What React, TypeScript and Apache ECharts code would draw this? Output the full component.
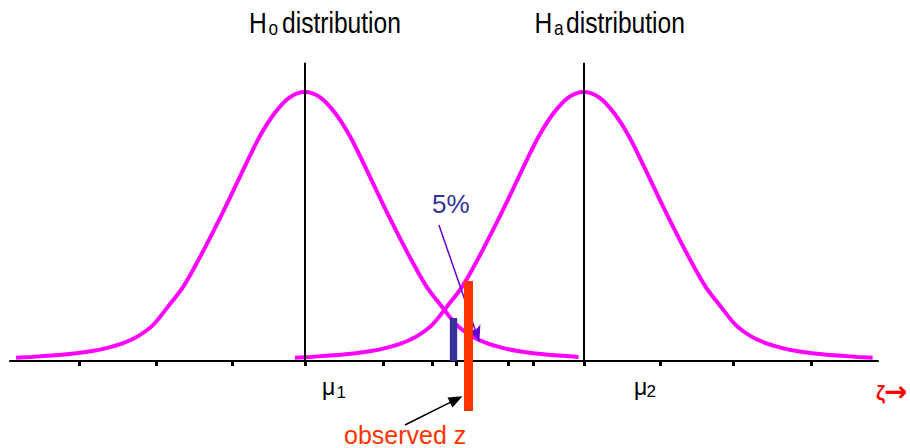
import React, { useEffect, useRef } from "react";
import * as echarts from "echarts";

// Horizontal positions, in units of one standard deviation (sigma)
const OFFSETS = [
  -3.8, -3.6, -3.4, -3.2, -3.0, -2.8, -2.6, -2.4, -2.2, -2.0, -1.8, -1.6, -1.4,
  -1.2, -1.0, -0.8, -0.6, -0.4, -0.2, 0, 0.2, 0.4, 0.6, 0.8, 1.0, 1.2, 1.4, 1.6,
  1.8, 2.0, 2.2, 2.4, 2.6, 2.8, 3.0, 3.2, 3.4, 3.6, 3.8,
];
// Curve heights (peak = 1)
const H0_DENSITY = [
  0.003, 0.006, 0.01, 0.014, 0.02, 0.028, 0.04, 0.057, 0.083, 0.125, 0.195, 0.27,
  0.37, 0.48, 0.595, 0.715, 0.83, 0.92, 0.98, 1.0, 0.98, 0.92, 0.83, 0.715, 0.595,
  0.48, 0.37, 0.27, 0.195, 0.125, 0.083, 0.057, 0.04, 0.028, 0.02, 0.014, 0.01,
  0.006, 0.003,
];
const HA_DENSITY = [
  0.003, 0.006, 0.01, 0.014, 0.02, 0.028, 0.04, 0.057, 0.083, 0.125, 0.195, 0.27,
  0.37, 0.48, 0.595, 0.715, 0.83, 0.92, 0.98, 1.0, 0.98, 0.92, 0.83, 0.715, 0.595,
  0.48, 0.37, 0.27, 0.195, 0.125, 0.083, 0.057, 0.04, 0.028, 0.02, 0.014, 0.01,
  0.006, 0.003,
];
const MU = [0, 3.67];
const MU_LINE_TOP = 1.11;
const X_RANGE = [-3.88, 7.54];
const Y_RANGE = [-0.0094, 1.2];
const TICKS = [-2.97, -1.95, -0.96, 0, 1.03, 1.68, 1.99, 2.67, 3.0, 3.67, 4.68, 5.64, 6.66];
const ALPHA_X = 1.947;
const ALPHA_TOP = 0.152;
const OBS_X = 2.149;
const OBS_RANGE = [-0.197, 0.291];
const ARROW_5PCT = [
  [1.763, 0.501],
  [2.295, 0.063],
];
const ARROW_OBS = [
  [1.316, -0.2495],
  [1.991, -0.1535],
];

const FONT = '"Liberation Sans", Arial, "Noto Sans", sans-serif';

function txt(
  text: string,
  x: number,
  baseline: number,
  size: number,
  color: string,
  scaleX = 1,
  weight = "normal",
  family = FONT
) {
  return {
    type: "text",
    x,
    y: baseline - 0.3465 * size,
    scaleX,
    silent: true,
    style: {
      text,
      x: 0,
      y: 0,
      fill: color,
      font: `${weight} ${size}px ${family}`,
      textAlign: "left",
      textVerticalAlign: "middle",
    },
  };
}

export default function App() {
  const ref = useRef<HTMLDivElement>(null);

  useEffect(() => {
    document.body.style.margin = "0";
    document.body.style.overflow = "hidden";
    if (!ref.current) return;
    const chart = echarts.init(ref.current, null, { renderer: "svg" });

    const h0 = OFFSETS.map((o, i) => [MU[0] + o, H0_DENSITY[i]]).filter(
      (p) => p[0] <= MU[1]
    );
    const ha = OFFSETS.map((o, i) => [MU[1] + o, HA_DENSITY[i]]);

    const N = 0.82;
    const option: any = {
      animation: false,
      backgroundColor: "#ffffff",
      grid: {
        left: 10,
        right: 32,
        top: 38.7,
        bottom: 87,
        containLabel: false,
        outerBoundsMode: "none",
      },
      xAxis: {
        type: "value",
        min: X_RANGE[0],
        max: X_RANGE[1],
        axisLine: { show: true, onZero: false, lineStyle: { color: "#000", width: 2 } },
        axisTick: {
          show: true,
          length: 5,
          lineStyle: { color: "#000", width: 3 },
          customValues: TICKS,
        },
        axisLabel: { show: false },
        splitLine: { show: false },
      },
      yAxis: {
        type: "value",
        min: Y_RANGE[0],
        max: Y_RANGE[1],
        show: false,
        splitLine: { show: false },
      },
      series: [
        {
          name: "H0",
          type: "line",
          data: h0,
          symbol: "none",
          smooth: 0.3,
          lineStyle: { color: "#FF00FF", width: 4 },
          z: 2,
          silent: true,
        },
        {
          name: "Ha",
          type: "line",
          data: ha,
          symbol: "none",
          smooth: 0.3,
          lineStyle: { color: "#FF00FF", width: 4 },
          z: 2,
          silent: true,
        },
        {
          name: "arrow5",
          type: "lines",
          coordinateSystem: "cartesian2d",
          clip: false,
          symbol: ["none", "arrow"],
          symbolSize: [1, [10, 16]],
          lineStyle: { color: "#6600CC", width: 1.5, opacity: 1, curveness: 0 },
          data: [{ coords: ARROW_5PCT }],
          z: 3,
          silent: true,
        },
        {
          name: "mu",
          type: "lines",
          coordinateSystem: "cartesian2d",
          clip: false,
          symbol: ["none", "none"],
          lineStyle: { color: "#000000", width: 2, opacity: 1, curveness: 0 },
          data: MU.map((m) => ({
            coords: [
              [m, Y_RANGE[0]],
              [m, MU_LINE_TOP],
            ],
          })),
          z: 4,
          silent: true,
        },
        {
          name: "alpha",
          type: "lines",
          coordinateSystem: "cartesian2d",
          clip: false,
          symbol: ["none", "none"],
          lineStyle: { color: "#333399", width: 7.3, opacity: 1, curveness: 0 },
          data: [
            {
              coords: [
                [ALPHA_X, Y_RANGE[0]],
                [ALPHA_X, ALPHA_TOP],
              ],
            },
          ],
          z: 4,
          silent: true,
        },
        {
          name: "observed",
          type: "lines",
          coordinateSystem: "cartesian2d",
          clip: false,
          symbol: ["none", "none"],
          lineStyle: { color: "#FF3300", width: 9, opacity: 1, curveness: 0 },
          data: [
            {
              coords: [
                [OBS_X, OBS_RANGE[0]],
                [OBS_X, OBS_RANGE[1]],
              ],
            },
          ],
          z: 5,
          silent: true,
        },
        {
          name: "arrowObs",
          type: "lines",
          coordinateSystem: "cartesian2d",
          clip: false,
          symbol: ["none", "triangle"],
          symbolSize: [1, [11, 14]],
          lineStyle: { color: "#000000", width: 1.5, opacity: 1, curveness: 0 },
          data: [{ coords: ARROW_OBS }],
          z: 5,
          silent: true,
        },
      ],
      graphic: [
        txt("H", 249, 33, 30, "#000", N),
        txt("o", 268.5, 35.5, 21, "#000", N),
        txt("distribution", 282, 33, 30, "#000", N),
        txt("H", 534.5, 33, 30, "#000", N),
        txt("a", 554, 35.5, 21, "#000", N),
        txt("distribution", 566, 33, 30, "#000", N),
        txt("\u03bc", 322, 394.5, 23, "#000"),
        txt("1", 336.5, 398, 17, "#000"),
        txt("\u03bc", 634, 394.5, 23, "#000"),
        txt("2", 646.5, 397.5, 17, "#000"),
        txt("5%", 432, 213.3, 26, "#333399"),
        txt("observed z", 344, 443.3, 25, "#FF3300"),
        txt("\u03b6", 876, 400, 20, "#FF0000", 1, "bold"),
        txt("\u2192", 884, 401, 28, "#FF0000", 1, "bold", '"DejaVu Sans", sans-serif'),
      ],
    };

    chart.setOption(option);
    return () => chart.dispose();
  }, []);

  return <div ref={ref} style={{ width: 910, height: 448 }} />;
}
